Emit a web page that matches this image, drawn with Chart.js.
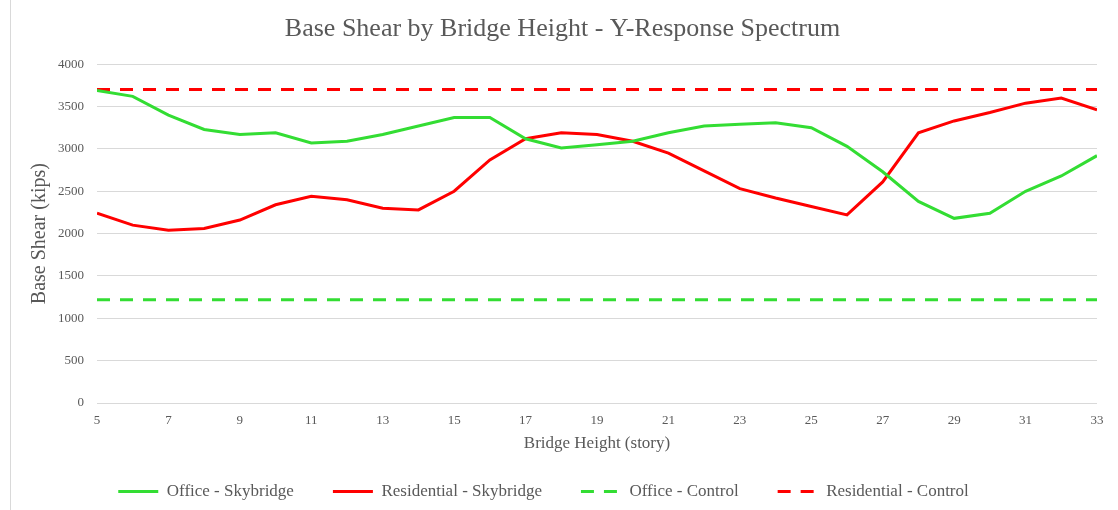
<!DOCTYPE html>
<html>
<head>
<meta charset="utf-8">
<script src="https://cdn.jsdelivr.net/npm/chart.js@4"></script>
<style>
  html, body { margin: 0; padding: 0; background: #fff; }
  #frame { position: absolute; left: 10px; top: 0; width: 1108px; height: 510px; border-left: 1px solid #d9d9d9; box-sizing: border-box; }
</style>
</head>
<body>
<div id="frame"><canvas id="chart"></canvas></div>
<script>
// bridge height (story)
const stories = [5, 6, 7, 8, 9, 10, 11, 12, 13, 14, 15, 16, 17, 18, 19, 20, 21, 22, 23, 24, 25, 26, 27, 28, 29, 30, 31, 32, 33];

// base shear (kips)
const officeSkybridge = [3690, 3620, 3400, 3230, 3170, 3190, 3070, 3090, 3170, 3270, 3370, 3370, 3120, 3010, 3050, 3090,
  3190, 3270, 3290, 3310, 3250, 3030, 2730, 2380, 2180, 2240, 2500, 2680, 2920];
const residentialSkybridge = [2240, 2100, 2040, 2060, 2160, 2340, 2440, 2400, 2300, 2280, 2500, 2870, 3120, 3190, 3170, 3090,
  2950, 2740, 2530, 2420, 2320, 2220, 2610, 3190, 3330, 3430, 3540, 3600, 3460];
const officeControl = 1220;
const residentialControl = 3700;

const GREEN = '#33dd33';
const RED = '#ff0000';
const TEXT = '#595959';
const FONT = "'Liberation Serif', 'Times New Roman', serif";

const toPoints = (ys) => stories.map((x, i) => ({ x: x, y: ys[i] }));
const flat = (v) => stories.map(x => ({ x: x, y: v }));

// the original legend sits a little left of centre
const legendShift = {
    id: 'legendShift',
    afterLayout(chart) {
        chart.legend.left -= 19;
        chart.legend.right -= 19;
    }
};

const ctx = document.getElementById('chart');
new Chart(ctx, {
    type: 'line',
    data: {
        datasets: [
            { label: 'Office - Skybridge', data: toPoints(officeSkybridge), borderColor: GREEN, backgroundColor: GREEN, borderWidth: 3, pointRadius: 0, tension: 0 },
            { label: 'Residential - Skybridge', data: toPoints(residentialSkybridge), borderColor: RED, backgroundColor: RED, borderWidth: 3, pointRadius: 0, tension: 0 },
            { label: 'Office - Control', data: flat(officeControl), borderColor: GREEN, backgroundColor: GREEN, borderWidth: 3, borderDash: [13, 10], pointRadius: 0 },
            { label: 'Residential - Control', data: flat(residentialControl), borderColor: RED, backgroundColor: RED, borderWidth: 3, borderDash: [13, 10], pointRadius: 0 }
        ]
    },
    options: {
        responsive: true,
        maintainAspectRatio: false,
        animation: false,
        layout: { padding: { left: 17, right: 21, top: 10, bottom: 0 } },
        scales: {
            x: {
                type: 'linear',
                min: 5,
                max: 33,
                grid: { display: false, drawTicks: false },
                border: { display: false },
                ticks: { stepSize: 2, color: TEXT, font: { family: FONT, size: 13 }, padding: 10, maxRotation: 0 },
                // negative padding lets the legend sit closer to the axis title
                title: { display: true, text: 'Bridge Height (story)', color: TEXT, font: { family: FONT, size: 17 }, padding: { top: -5, bottom: -10 } }
            },
            y: {
                min: 0,
                max: 4000,
                grid: { color: '#d9d9d9', lineWidth: 1, drawTicks: false },
                border: { display: false },
                ticks: { stepSize: 500, color: TEXT, font: { family: FONT, size: 13 }, padding: 13, callback: (v) => String(v) },
                title: { display: true, text: 'Base Shear (kips)', color: TEXT, font: { family: FONT, size: 20 }, padding: { top: 0, bottom: -7 } }
            }
        },
        plugins: {
            title: { display: true, text: 'Base Shear by Bridge Height - Y-Response Spectrum', color: TEXT, font: { family: FONT, size: 26, weight: 'normal' }, padding: { top: 4, bottom: 19 } },
            legend: {
                position: 'bottom',
                labels: {
                    usePointStyle: true,
                    pointStyle: 'line',
                    pointStyleWidth: 40,
                    color: TEXT,
                    font: { family: FONT, size: 17 },
                    padding: 39,
                    // point-style items lose the dataset dash, so put it back
                    generateLabels: (chart) => {
                        const items = Chart.defaults.plugins.legend.labels.generateLabels(chart);
                        items.forEach(item => {
                            const ds = chart.data.datasets[item.datasetIndex];
                            item.lineDash = ds.borderDash || [];
                            item.lineWidth = 3;
                            item.strokeStyle = ds.borderColor;
                        });
                        return items;
                    }
                }
            },
            tooltip: { enabled: false }
        }
    },
    plugins: [legendShift]
});
</script>
</body>
</html>
